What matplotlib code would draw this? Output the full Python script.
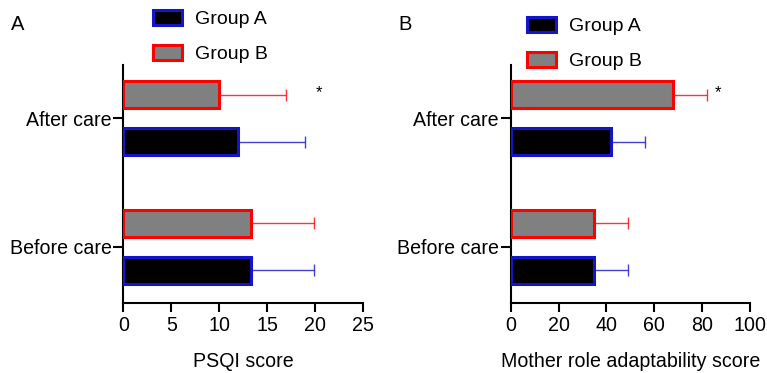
import numpy as np
import matplotlib.pyplot as plt
from matplotlib.patches import Patch

plt.rcParams['font.family'] = ['Liberation Sans', 'DejaVu Sans']
plt.rcParams['font.size'] = 14.1

categories = ['Before care', 'After care']

# panel A - PSQI score
psqi_a = [13.3, 12.0]
psqi_a_sd = [6.6, 7.0]
psqi_b = [13.3, 10.0]
psqi_b_sd = [6.6, 7.0]

# panel B - mother role adaptability score
mra_a = [35.0, 42.0]
mra_a_sd = [14.0, 14.0]
mra_b = [35.0, 68.0]
mra_b_sd = [14.0, 14.0]

blue = '#1414c8'
red = '#ff0000'


def panel(ax, va, va_sd, vb, vb_sd, xmax, step, xlabel, star_x, letter, leg_x, leg_y):
    y = np.arange(len(categories))
    off = 0.183
    h = 0.212
    ax.barh(y - off, va, height=h, color='black', edgecolor=blue, linewidth=2.2,
            xerr=[np.zeros(len(va)), va_sd], ecolor=blue,
            error_kw=dict(elinewidth=1.0, capsize=4.5, capthick=1.0, alpha=0.8), zorder=3)
    ax.barh(y + off, vb, height=h, color='#808080', edgecolor=red, linewidth=2.2,
            xerr=[np.zeros(len(vb)), vb_sd], ecolor=red,
            error_kw=dict(elinewidth=1.0, capsize=4.5, capthick=1.0, alpha=0.8), zorder=3)
    ax.text(star_x, 1 + off + 0.02, '*', ha='center', va='center', fontsize=12)

    ax.set_xlim(0, xmax)
    ax.set_ylim(-0.436, 1.415)
    ax.set_xticks(np.arange(0, xmax + 1, step))
    ax.set_yticks(y)
    ax.set_yticklabels(categories)
    for s in ['top', 'right']:
        ax.spines[s].set_visible(False)
    for s in ['left', 'bottom']:
        ax.spines[s].set_linewidth(1.5)
    ax.tick_params(axis='y', length=7.5, width=1.5, pad=1)
    ax.tick_params(axis='x', length=6.5, width=1.5, pad=3)
    ax.set_xlabel(xlabel, labelpad=12)

    handles = [Patch(facecolor='black', edgecolor=blue, linewidth=2.2),
               Patch(facecolor='#808080', edgecolor=red, linewidth=2.2)]
    fig.legend(handles, ['Group A', 'Group B'], loc='upper left',
               bbox_to_anchor=(leg_x / 767, 1 - leg_y / 373), frameon=False,
               handlelength=1.5, handleheight=0.8, labelspacing=0.85,
               handletextpad=0.68, borderpad=0, borderaxespad=0, fontsize=14)
    ax.text(-0.47, 1.17, letter, transform=ax.transAxes, fontsize=14.5,
            ha='left', va='center')


fig = plt.figure(figsize=(7.67, 3.73), dpi=100)
ax1 = fig.add_axes([0.1608, 0.1885, 0.3121, 0.637])
ax2 = fig.add_axes([0.6658, 0.1885, 0.3120, 0.637])

panel(ax1, psqi_a, psqi_a_sd, psqi_b, psqi_b_sd, 25, 5, 'PSQI score', 20.4, 'A', 153, 10)
panel(ax2, mra_a, mra_a_sd, mra_b, mra_b_sd, 100, 20,
      'Mother role adaptability score', 86.8, 'B', 527, 17)

fig.savefig('out.png', dpi=100)
